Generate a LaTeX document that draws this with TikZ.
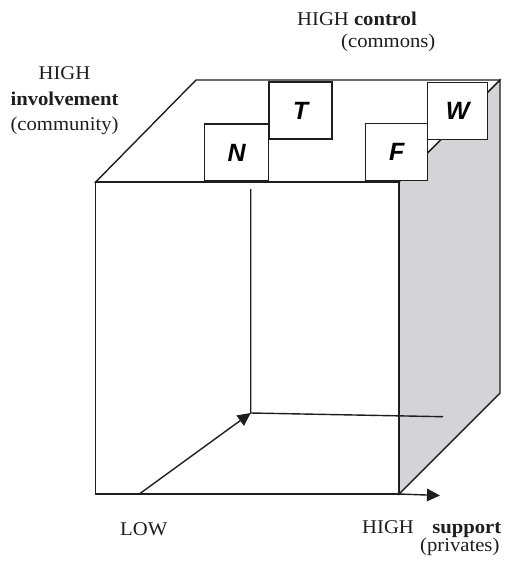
\documentclass[tikz,border=0pt]{standalone}
\usepackage{fontspec}
\setmainfont{Liberation Serif}[FakeStretch=1.06]
\newfontfamily\boxfont{Liberation Sans}
\usetikzlibrary{arrows.meta}
\definecolor{sidegray}{RGB}{212,212,214}
\definecolor{ink}{RGB}{30,30,30}

\begin{document}
\begin{tikzpicture}[x=1pt,y=-1pt,
  edge/.style={line width=1.4pt, draw=ink, line join=miter},
  tagbox/.style={draw=ink, line width=1.1pt, fill=white, inner sep=0pt,
    font=\boxfont\bfseries\itshape\fontsize{25}{25}\selectfont},
  axis/.style={line width=1.4pt, draw=ink},
  arrowaxis/.style={axis, -{Triangle[length=13pt,width=12.5pt]}},
  lbl/.style={inner sep=0pt, font=\fontsize{19.5}{22}\selectfont, text=ink}]
\useasboundingbox (0,0) rectangle (506,568);

% cube corners
\coordinate (FTL) at (95.7,182);
\coordinate (FTR) at (399,182);
\coordinate (FBL) at (95.7,494);
\coordinate (FBR) at (399,494);
\coordinate (BTL) at (196,80);
\coordinate (BTR) at (500,80);
\coordinate (BBR) at (500,393);

% top face, shaded side face, front face
\draw[edge, fill=white] (FTL) -- (BTL) -- (BTR) -- (FTR) -- cycle;
\draw[edge, fill=sidegray] (FTR) -- (BTR) -- (BBR) -- (FBR) -- cycle;
\draw[edge, fill=white] (FTL) rectangle (FBR);

% tags on the top face
\node[tagbox, minimum width=63pt, minimum height=57pt] (T) at (300.5,110.5) {T};
\node[tagbox, minimum width=64pt, minimum height=57pt] (N) at (236.7,152.5) {N};
\node[tagbox, minimum width=60pt, minimum height=56.5pt] (W) at (457.7,110.8) {W};
\node[tagbox, minimum width=62pt, minimum height=57pt] (F) at (396.7,152.3) {F};

% axes inside the cube
\coordinate (origin) at (139.3,494);
\coordinate (inner) at (250.7,413);
\coordinate (ztop) at (250.7,189);
\coordinate (yend) at (443,416.7);
\coordinate (xend) at (440,495.5);

\draw[axis] (ztop) -- (inner) -- (yend);
\draw[arrowaxis] (origin) -- (inner);
\draw[arrowaxis] (FBR) -- (xend);

% axis labels
\node[lbl, anchor=base] (hi1) at (64.5,79) {HIGH};
\node[lbl, anchor=base] (hi2) at (64.5,105.7) {\textbf{involvement}};
\node[lbl, anchor=base] (hi3) at (64.5,130.5) {(community)};
\node[lbl, anchor=base west] (ctl) at (297,25) {HIGH \textbf{control}};
\node[lbl, anchor=base west] (cmn) at (341,47.7) {(commons)};
\node[lbl, anchor=base west] (low) at (120,535.7) {LOW};
\node[lbl, anchor=base west] (sup) at (362,533.3) {HIGH\hspace{0.95em}\textbf{support}};
\node[lbl, anchor=base west] (prv) at (420,551) {(privates)};
\end{tikzpicture}
\end{document}
